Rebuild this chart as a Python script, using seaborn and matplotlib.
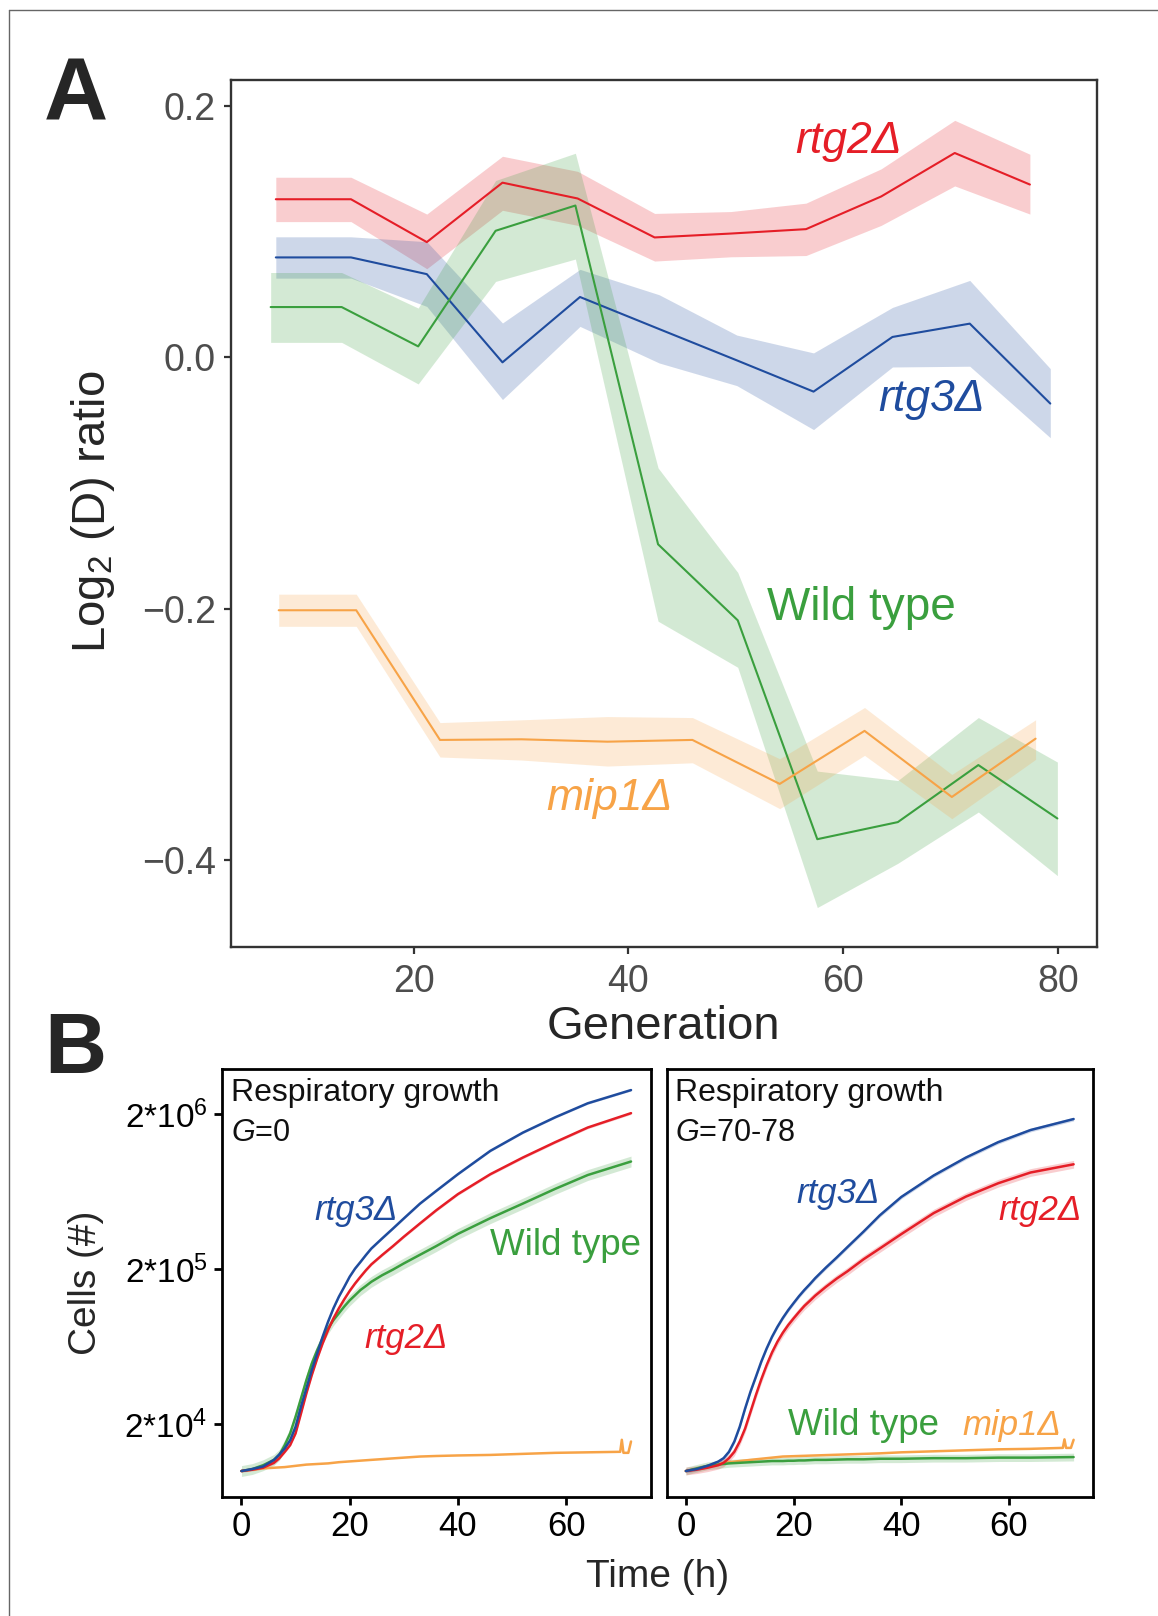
import numpy as np
import seaborn as sns
import matplotlib
matplotlib.use("Agg")
import matplotlib.pyplot as plt
from matplotlib.lines import Line2D

# ---------------- panel A: log2(D) ratio vs generation ----------------
rtg2_gen = [7.17, 14.17, 21.23, 28.28, 35.28, 42.45, 49.55, 56.55, 63.55, 70.4, 77.4]
rtg2_mean = [0.1258, 0.1258, 0.0917, 0.139, 0.1264, 0.0954, 0.0985, 0.102, 0.128, 0.1626, 0.1375]
rtg2_hi = [0.1433, 0.1433, 0.114, 0.160, 0.148, 0.1145, 0.116, 0.1227, 0.150, 0.1886, 0.1616]
rtg2_lo = [0.108, 0.108, 0.0705, 0.117, 0.105, 0.0766, 0.080, 0.081, 0.105, 0.1364, 0.114]

rtg3_gen = [7.17, 14.17, 21.23, 28.28, 35.5, 42.87, 50.1, 57.25, 64.6, 71.8, 79.3]
rtg3_mean = [0.0795, 0.0795, 0.0662, -0.004, 0.048, 0.0225, -0.0024, -0.0273, 0.0162, 0.0268, -0.0368]
rtg3_hi = [0.0959, 0.0959, 0.092, 0.0273, 0.070, 0.0498, 0.0177, 0.0035, 0.0397, 0.0612, -0.009]
rtg3_lo = [0.063, 0.063, 0.0405, -0.0336, 0.0246, -0.0045, -0.0225, -0.0575, -0.0077, -0.0071, -0.064]

wt_gen = [6.69, 13.3, 20.43, 27.64, 35.07, 42.77, 50.19, 57.6, 65.1, 72.6, 79.96]
wt_mean = [0.04, 0.04, 0.0087, 0.1007, 0.1208, -0.1488, -0.2093, -0.3835, -0.3699, -0.3245, -0.367]
wt_hi = [0.0675, 0.0675, 0.0392, 0.1407, 0.1624, -0.088, -0.1712, -0.3293, -0.3368, -0.2867, -0.3221]
wt_lo = [0.0119, 0.0119, -0.0212, 0.0604, 0.0782, -0.210, -0.2467, -0.4379, -0.4027, -0.3619, -0.4125]

mip1_gen = [7.44, 14.66, 22.46, 30.05, 38.06, 45.97, 54.1, 62.0, 70.13, 77.93]
mip1_mean = [-0.2013, -0.2013, -0.3045, -0.304, -0.3059, -0.3045, -0.3395, -0.2973, -0.3499, -0.3035]
mip1_hi = [-0.1885, -0.1885, -0.2907, -0.2885, -0.2859, -0.2867, -0.3195, -0.2787, -0.332, -0.2885]
mip1_lo = [-0.2141, -0.2141, -0.3181, -0.3205, -0.3253, -0.3227, -0.3592, -0.3168, -0.3672, -0.32]

# ---------------- panel B: growth curves (cells) ----------------
hours = [0, 2, 4, 6, 7, 8, 9, 10, 11, 12, 13, 14, 15, 16, 17, 18, 19, 20, 21, 22, 23, 24,
         26, 28, 30, 33, 36, 40, 46, 52, 58, 64, 72]
hours_mip1 = [0, 2, 4, 6, 8, 10, 12, 14, 16, 18, 21, 24, 27, 30, 33, 36, 40, 46, 52, 58, 64,
              70, 70.3, 70.6, 71.5, 72]

# G = 0
g0_rtg3 = [1.0e4, 1.03e4, 1.07e4, 1.18e4, 1.28e4, 1.40e4, 1.58e4, 1.93e4, 2.60e4, 3.41e4, 4.48e4,
           5.73e4, 7.34e4, 9.17e4, 1.12e5, 1.33e5, 1.54e5, 1.79e5, 2.02e5, 2.23e5, 2.47e5, 2.72e5,
           3.16e5, 3.66e5, 4.25e5, 5.3e5, 6.4e5, 8.2e5, 1.16e6, 1.52e6, 1.91e6, 2.35e6, 2.86e6]
g0_rtg2 = [1.0e4, 1.02e4, 1.05e4, 1.13e4, 1.21e4, 1.33e4, 1.47e4, 1.75e4, 2.35e4, 3.17e4, 4.16e4,
           5.32e4, 6.65e4, 8.1e4, 9.64e4, 1.12e5, 1.28e5, 1.45e5, 1.62e5, 1.79e5, 1.97e5, 2.15e5,
           2.47e5, 2.82e5, 3.24e5, 3.95e5, 4.8e5, 6.1e5, 8.2e5, 1.05e6, 1.32e6, 1.64e6, 2.03e6]
g0_wt = [1.0e4, 1.03e4, 1.09e4, 1.18e4, 1.27e4, 1.47e4, 1.75e4, 2.24e4, 2.94e4, 3.86e4, 4.94e4,
         6.02e4, 7.16e4, 8.31e4, 9.4e4, 1.04e5, 1.15e5, 1.26e5, 1.36e5, 1.47e5, 1.56e5, 1.66e5,
         1.83e5, 1.99e5, 2.18e5, 2.48e5, 2.82e5, 3.38e5, 4.27e5, 5.3e5, 6.6e5, 8.1e5, 9.9e5]
g0_mip1 = [1.0e4, 1.02e4, 1.04e4, 1.05e4, 1.06e4, 1.08e4, 1.10e4, 1.11e4, 1.12e4, 1.14e4, 1.16e4,
           1.18e4, 1.20e4, 1.22e4, 1.24e4, 1.25e4, 1.26e4, 1.27e4, 1.29e4, 1.31e4, 1.32e4,
           1.33e4, 1.59e4, 1.31e4, 1.31e4, 1.55e4]

# G = 70-78
g70_rtg3 = [1.0e4, 1.03e4, 1.08e4, 1.15e4, 1.21e4, 1.33e4, 1.55e4, 1.93e4, 2.53e4, 3.25e4, 4.05e4,
            5.07e4, 6.17e4, 7.34e4, 8.51e4, 9.7e4, 1.09e5, 1.21e5, 1.34e5, 1.47e5, 1.60e5, 1.75e5,
            2.05e5, 2.38e5, 2.78e5, 3.5e5, 4.45e5, 5.85e5, 8.04e5, 1.05e6, 1.32e6, 1.58e6, 1.86e6]
g70_rtg2 = [1.0e4, 1.02e4, 1.05e4, 1.09e4, 1.13e4, 1.21e4, 1.33e4, 1.55e4, 1.88e4, 2.41e4, 3.09e4,
            3.90e4, 4.82e4, 5.82e4, 6.82e4, 7.79e4, 8.73e4, 9.64e4, 1.06e5, 1.16e5, 1.25e5, 1.35e5,
            1.54e5, 1.74e5, 1.94e5, 2.32e5, 2.72e5, 3.37e5, 4.6e5, 5.88e5, 7.17e5, 8.41e5, 9.5e5]
g70_wt = [1.0e4, 1.04e4, 1.08e4, 1.10e4, 1.11e4, 1.12e4, 1.125e4, 1.13e4, 1.135e4, 1.14e4, 1.145e4,
          1.15e4, 1.155e4, 1.16e4, 1.16e4, 1.16e4, 1.165e4, 1.165e4, 1.17e4, 1.17e4, 1.175e4, 1.18e4,
          1.18e4, 1.185e4, 1.19e4, 1.19e4, 1.20e4, 1.20e4, 1.21e4, 1.21e4, 1.22e4, 1.22e4, 1.23e4]
g70_mip1 = [1.0e4, 1.03e4, 1.07e4, 1.11e4, 1.14e4, 1.16e4, 1.18e4, 1.20e4, 1.22e4, 1.24e4, 1.25e4,
            1.26e4, 1.27e4, 1.28e4, 1.29e4, 1.30e4, 1.32e4, 1.34e4, 1.36e4, 1.38e4, 1.39e4,
            1.41e4, 1.60e4, 1.41e4, 1.41e4, 1.59e4]

# ribbon half-width in decades
g0_band = {"rtg3": 0.006, "rtg2": 0.008, "wt": 0.035, "mip1": 0.0}
g70_band = {"rtg3": 0.012, "rtg2": 0.025, "wt": 0.025, "mip1": 0.0}

RED = "#E51E27"
BLUE = "#1F4C9E"
GREEN = "#3A9F3E"
ORANGE = "#F7A347"

sns.set_style("ticks")
plt.rcParams["font.family"] = ["Liberation Sans", "DejaVu Sans"]
plt.rcParams["mathtext.fontset"] = "custom"
plt.rcParams["mathtext.rm"] = "Liberation Sans"
plt.rcParams["mathtext.it"] = "Liberation Sans:italic"
plt.rcParams["mathtext.bf"] = "Liberation Sans:bold"

W, H = 1158, 1616
fig = plt.figure(figsize=(W / 100, H / 100), dpi=100)


def box(l, t, r, b):
    return [l / W, 1 - b / H, (r - l) / W, (b - t) / H]


# ---------------- panel A ----------------
axA = fig.add_axes(box(230.5, 80, 1097, 947))
seriesA = [
    (rtg2_gen, rtg2_mean, rtg2_lo, rtg2_hi, RED),
    (rtg3_gen, rtg3_mean, rtg3_lo, rtg3_hi, BLUE),
    (wt_gen, wt_mean, wt_lo, wt_hi, GREEN),
    (mip1_gen, mip1_mean, mip1_lo, mip1_hi, ORANGE),
]
for gen, mean, lo, hi, col in seriesA:
    axA.fill_between(gen, lo, hi, color=col, alpha=0.22, linewidth=0)
for gen, mean, lo, hi, col in seriesA:
    sns.lineplot(x=gen, y=mean, color=col, linewidth=1.5, ax=axA, estimator=None)

axA.set_xlim(2.95, 83.65)
axA.set_ylim(-0.4693, 0.2207)
axA.set_xticks([20, 40, 60, 80])
axA.set_xticklabels(["20", "40", "60", "80"])
axA.set_yticks([-0.4, -0.2, 0.0, 0.2])
axA.set_yticklabels(["\u22120.4", "\u22120.2", "0.0", "0.2"])
axA.set_xlabel("")
axA.set_ylabel("")
for s in axA.spines.values():
    s.set_visible(True)
    s.set_color("#333333")
    s.set_linewidth(1.7)
axA.tick_params(axis="both", length=5, width=1.6, color="#333333",
                labelcolor="#4D4D4D", labelsize=27)
axA.tick_params(axis="x", pad=7.5)
axA.tick_params(axis="y", pad=5.5)

lab_kw = dict(ha="center", va="baseline", style="italic", fontsize=32)
axA.text(60.5, 0.1624, "rtg2\u0394", color=RED, **lab_kw)
axA.text(68.2, -0.0429, "rtg3\u0394", color=BLUE, **lab_kw)
axA.text(38.25, -0.36, "mip1\u0394", color=ORANGE, **lab_kw)
axA.text(61.7, -0.2093, "Wild type", color=GREEN, ha="center", va="baseline", fontsize=33)

# ---------------- panel B ----------------
axL = fig.add_axes(box(222, 1069, 650.5, 1497))
axR = fig.add_axes(box(666.5, 1069, 1093, 1497), sharey=axL)

panels = [
    (axL, [("wt", g0_wt), ("rtg2", g0_rtg2), ("rtg3", g0_rtg3)], g0_mip1, g0_band, "0"),
    (axR, [("wt", g70_wt), ("rtg2", g70_rtg2), ("rtg3", g70_rtg3)], g70_mip1, g70_band, "70-78"),
]
colmap = {"wt": GREEN, "rtg2": RED, "rtg3": BLUE, "mip1": ORANGE}
for ax, curves, mip1, band, gtxt in panels:
    for key, vals in curves:
        v = np.array(vals)
        w = 10 ** band[key]
        if band[key] > 0:
            ax.fill_between(hours, v / w, v * w, color=colmap[key], alpha=0.22, linewidth=0)
    sns.lineplot(x=hours_mip1, y=mip1, color=ORANGE, linewidth=1.8, ax=ax, estimator=None)
    for key, vals in curves:
        sns.lineplot(x=hours, y=vals, color=colmap[key], linewidth=1.8, ax=ax, estimator=None)
    ax.set_yscale("log")
    ax.set_xlim(-3.6, 75.6)
    ax.set_ylim(6.8e3, 3.91e6)
    ax.set_xticks([0, 20, 40, 60])
    ax.set_xticklabels(["0", "20", "40", "60"])
    ax.set_xlabel("")
    ax.set_ylabel("")
    for s in ax.spines.values():
        s.set_visible(True)
        s.set_color("black")
        s.set_linewidth(2.0)
    ax.tick_params(axis="both", which="major", length=5.5, width=2.0, color="black",
                   labelcolor="black", labelsize=25)
    ax.tick_params(axis="x", pad=4)
    ax.tick_params(axis="y", pad=4.8)
    ax.minorticks_off()
    ax.text(0.02, 0.925, "Respiratory growth", transform=ax.transAxes, fontsize=23,
            ha="left", va="baseline", color="#111111")
    ax.text(0.02, 0.832, r"$\it{G}$=" + gtxt, transform=ax.transAxes, fontsize=22,
            ha="left", va="baseline", color="#111111")

axL.set_yticks([2e4, 2e5, 2e6])
axL.set_yticklabels([r"2*10$^{4}$", r"2*10$^{5}$", r"2*10$^{6}$"])
axL.tick_params(axis="y", labelsize=24)
axL.minorticks_off()
axR.tick_params(axis="y", labelleft=False, length=0)

bkw = dict(ha="center", va="baseline", fontsize=25)
axL.text(21.1, 4.16e5, "rtg3\u0394", color=BLUE, style="italic", **bkw)
axL.text(59.8, 2.48e5, "Wild type", color=GREEN, ha="center", va="baseline", fontsize=26.5)
axL.text(30.4, 6.2e4, "rtg2\u0394", color=RED, style="italic", **bkw)
axR.text(28.35, 5.33e5, "rtg3\u0394", color=BLUE, style="italic", **bkw)
axR.text(65.7, 4.16e5, "rtg2\u0394", color=RED, style="italic", **bkw)
axR.text(33.0, 1.715e4, "Wild type", color=GREEN, ha="center", va="baseline", fontsize=26.5)
axR.text(60.5, 1.715e4, "mip1\u0394", color=ORANGE, style="italic", **bkw)

# ---------------- figure-level labels ----------------
fig.text(44 / W, 1 - 120 / H, "A", fontsize=64, fontweight="bold", va="baseline", ha="left")
fig.text(44 / W, 1 - 1073 / H, "B", fontsize=62, fontweight="bold", va="baseline", ha="left")
fig.text(663.5 / W, 1 - 1039 / H, "Generation", fontsize=34, ha="center", va="baseline")
fig.text(93 / W, 1 - 512 / H, r"Log$_{2}$ (D) ratio", fontsize=34, rotation=90,
         ha="center", va="center")
fig.text(657.5 / W, 1 - 1587 / H, "Time (h)", fontsize=28, ha="center", va="baseline")
fig.text(86 / W, 1 - 1283 / H, "Cells (#)", fontsize=28, rotation=90, ha="center", va="center")

# thin frame on the top and left edges
fig.add_artist(Line2D([8.5 / W, 8.5 / W], [0, 1 - 10 / H], color="#666666", linewidth=1.0))
fig.add_artist(Line2D([8.5 / W, 1], [1 - 10 / H, 1 - 10 / H], color="#666666", linewidth=1.0))

fig.savefig("out.png", dpi=100)
